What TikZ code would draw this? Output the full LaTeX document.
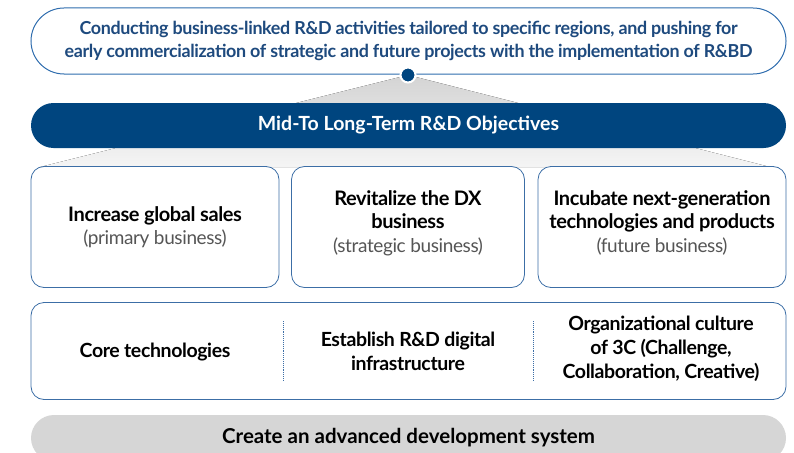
\documentclass[tikz,border=0pt]{standalone}
\usepackage{fontspec}
\setsansfont{Lato}[LetterSpace=-2]
\usetikzlibrary{positioning}

\definecolor{navy}{HTML}{00457F}
\definecolor{goalblue}{HTML}{2F6DAE}
\definecolor{goaltext}{HTML}{1E4A7E}
\definecolor{boxblue}{HTML}{3C6EA6}
\definecolor{subgray}{HTML}{555555}
\definecolor{basegray}{HTML}{D6D6D6}

\newcommand{\subline}[1]{{\mdseries\color{subgray}\fontsize{19}{23}\selectfont #1}}

\begin{document}
\begin{tikzpicture}[
  x=1pt, y=-1pt,
  font=\sffamily,
  goal/.style={rectangle, rounded corners=33pt, draw=goalblue, line width=1pt, fill=white,
               minimum width=755pt, minimum height=66pt, inner sep=0pt, align=center,
               text=goaltext, font=\sffamily\bfseries\fontsize{17.9}{23}\selectfont},
  bar/.style={rectangle, rounded corners=22.5pt, fill=navy, minimum width=755pt,
              minimum height=45pt, inner sep=0pt, text=white,
              font=\sffamily\bfseries\fontsize{19.5}{23}\selectfont\addfontfeature{LetterSpace=0}},
  obj/.style={rectangle, rounded corners=13pt, draw=boxblue, line width=0.8pt, fill=white,
              minimum height=121pt, inner sep=0pt, align=center,
              font=\sffamily\bfseries\fontsize{20}{23.5}\selectfont},
  tall/.style={obj, text depth=11pt},
  frame/.style={obj, minimum width=755pt, minimum height=97pt},
  item/.style={align=center, inner sep=0pt, font=\sffamily\bfseries\fontsize{19.5}{24}\selectfont},
  base/.style={rectangle, rounded corners=23pt, fill=basegray, minimum width=755pt,
               minimum height=46pt, inner sep=0pt,
               font=\sffamily\bfseries\fontsize{20.5}{23}\selectfont\addfontfeature{LetterSpace=0}},
  pin/.style={circle, fill=navy, draw=white, line width=2pt, minimum size=15pt, inner sep=0pt},
  sep/.style={draw=boxblue, densely dotted, line width=0.9pt}
]
\path[use as bounding box] (0,0) rectangle (794,452);
\clip (0,0) rectangle (794,452);

\coordinate (apex) at (408,75);
\fill[top color=black!17, bottom color=black!4] (apex) -- (40,167) -- (770,167) -- cycle;

\node[goal] (goal) at (408.5,41) {Conducting business-linked R\&D activities tailored to specific regions, and pushing for\\
  early commercialization of strategic and future projects with the implementation of R\&BD};
\node[bar] (mid) at (408.5,125.5) {Mid-To Long-Term R\&D Objectives};
\node[pin] (dot) at (apex) {};

\node[obj, minimum width=248pt]  (sales) at (155,227) {Increase global sales\\ \subline{(primary business)}};
\node[tall, minimum width=233pt] (dx)    at (408,227) {Revitalize the DX\\business\\ \subline{(strategic business)}};
\node[tall, minimum width=248pt] (next)  at (662,227) {Incubate next-generation\\technologies and products\\ \subline{(future business)}};

\node[frame] (infra) at (408.5,351) {};
\node[item] (core) at (155,352) {Core technologies};
\node[item] (digi) at (408,351) {Establish R\&D digital\\infrastructure};
\node[item] (cult) at (661,349) {Organizational culture\\of 3C (Challenge,\\Collaboration, Creative)};
\draw[sep] (283,321) -- (283,381);
\draw[sep] (533,321) -- (533,381);

\node[base] (sys) at (408.5,438) {Create an advanced development system};
\end{tikzpicture}
\end{document}
